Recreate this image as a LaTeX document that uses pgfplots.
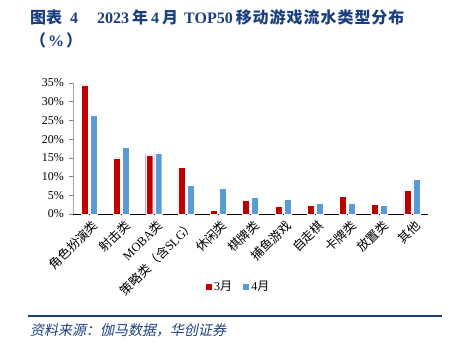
\documentclass[border=0pt]{standalone}
\usepackage{pgfplots}
\usepackage{pgfplotstable}
\pgfplotsset{compat=1.18}
\usepackage{fontspec}
\setmainfont{Liberation Serif}
\newfontfamily\cjk{Noto Sans CJK SC}
\newfontfamily\cjkt{Noto Sans CJK SC}[LetterSpace=6]
\newfontfamily\cjkit{Noto Sans CJK SC}[FakeSlant=0.2]
\definecolor{redA}{HTML}{C00000}
\definecolor{blueA}{HTML}{5B9BD5}
\definecolor{navy}{HTML}{1B3F7E}
\pgfplotstableread{
x m3 m4
0 34.5 26.5
1 15.0 17.9
2 15.8 16.3
3 12.4 7.6
4 0.9 6.8
5 3.6 4.4
6 2.0 4.0
7 2.4 2.8
8 4.8 2.8
9 2.6 2.3
10 6.3 9.3
}\data
\begin{document}
\begin{tikzpicture}
\path[use as bounding box] (0,0) rectangle (454bp,351bp);
\node[anchor=base west, inner sep=0, text=navy, font=\fontsize{16bp}{18bp}\selectfont\bfseries] at (30bp,327.5bp)
  {{\cjk 图表}\hspace{8bp}4\hspace{19bp}2023\hspace{3bp}{\cjk 年}\hspace{3bp}4\hspace{3bp}{\cjk 月}\hspace{6bp}TOP50\hspace{3bp}{\cjkt 移动游戏流水类型分布}};
\node[anchor=base west, inner sep=0, text=navy, font=\fontsize{16bp}{18bp}\selectfont\bfseries] at (30bp,304bp)
  {{\cjk （}\hspace{2bp}\%\hspace{2bp}{\cjk ）}};
\draw[navy, line width=1.6bp] (28bp,35bp) -- (442bp,35bp);
\node[anchor=base west, inner sep=0, text=navy, font=\fontsize{14bp}{16bp}\cjkit] at (30bp,16bp)
  {资料来源：伽马数据，华创证券};
\begin{axis}[
  at={(73bp,137bp)}, anchor=south west,
  scale only axis, width=355bp, height=131bp,
  xmin=-0.5, xmax=10.5, ymin=0, ymax=35,
  axis x line*=bottom, axis y line*=left,
  x axis line style={black, line width=1pt},
  y axis line style={black!35, line width=0.8pt},
  ytick={0,5,...,35},
  yticklabel={\pgfmathprintnumber{\tick}\%},
  yticklabel style={font=\fontsize{12bp}{14bp}\selectfont, inner sep=1bp, xshift=-4bp},
  /pgf/number format/assume math mode=true,
  ytick style={black!50, line width=0.6pt},
  tick align=outside,
  major tick length=4bp,
  xtick={0,...,10},
  xtick style={draw=none},
  xticklabels={角色扮演类,射击类,{{\rmfamily MOBA}类},{策略类（含{\rmfamily SLG}）},休闲类,棋牌类,捕鱼游戏,自走棋,卡牌类,放置类,其他},
  xticklabel style={rotate=45, anchor=east, font=\fontsize{12.5bp}{14bp}\cjk, inner sep=1bp, yshift=-8bp, xshift=2bp},
  extra x ticks={-0.5,0.5,...,10.5},
  extra x tick labels={},
  extra x tick style={tick style={draw=black, line width=0.8pt}},
  legend style={at={(0.465,-0.557)}, anchor=center, draw=none, legend columns=2,
    font=\fontsize{12bp}{14bp}\selectfont, /tikz/every even column/.append style={column sep=8bp}},
  legend image code/.code={\fill[#1] (0bp,-3.5bp) rectangle (7bp,3.5bp);},
]
\addplot[ybar, bar width=7bp, bar shift=-4.5bp, fill=redA, draw=white, line width=0.3pt] table[x=x,y=m3]{\data};
\addlegendentry{3{\cjk 月}}
\addplot[ybar, bar width=7bp, bar shift=4.5bp, fill=blueA, draw=white, line width=0.3pt] table[x=x,y=m4]{\data};
\addlegendentry{4{\cjk 月}}
\end{axis}
\end{tikzpicture}
\end{document}
